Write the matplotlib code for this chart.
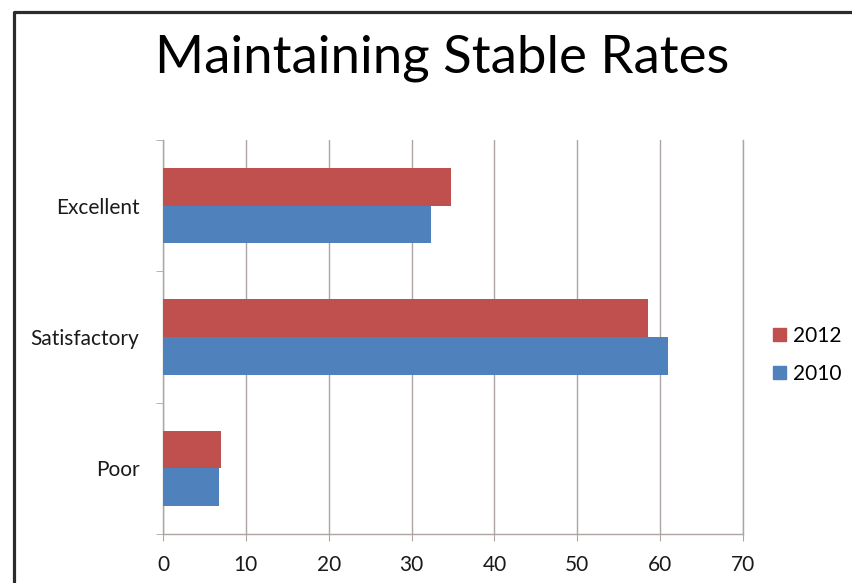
import matplotlib.pyplot as plt
from matplotlib.lines import Line2D
from matplotlib.patches import Patch
import numpy as np

categories = ['Poor', 'Satisfactory', 'Excellent']
rates_2012 = [7.0, 58.5, 34.7]
rates_2010 = [6.8, 60.9, 32.4]
xticks = [0, 10, 20, 30, 40, 50, 60, 70]

red = '#C0504D'
blue = '#4F81BD'
grid_col = '#ADA5A1'

plt.rcParams['font.family'] = ['Lato', 'DejaVu Sans']

fig = plt.figure(figsize=(8.53, 5.83), dpi=100)
ax = fig.add_axes([163 / 853, 49 / 583, 580 / 853, 394 / 583])

ind = np.arange(len(categories))
h = 0.288
ax.barh(ind + h / 2, rates_2012, h, color=red, label='2012', zorder=3)
ax.barh(ind - h / 2, rates_2010, h, color=blue, label='2010', zorder=3)

ax.set_xlim(0, 70)
ax.set_ylim(-0.5, 2.5)
ax.set_xticks(xticks)
ax.set_xticklabels([str(v) for v in xticks], fontsize=15, color='#1a1a1a')
ax.set_yticks(ind)
ax.set_yticklabels(categories, fontsize=15, color='#1a1a1a')
ax.set_yticks(np.arange(-0.5, 3, 1), minor=True)
ax.tick_params(axis='y', which='major', length=0, pad=17)
ax.tick_params(axis='y', which='minor', length=5, color=grid_col, direction='out')
ax.tick_params(axis='x', length=5, color=grid_col, pad=10)

ax.set_axisbelow(True)
ax.grid(axis='x', color=grid_col, linewidth=1.0)
ax.spines['top'].set_visible(False)
for s in ['left', 'bottom', 'right']:
    ax.spines[s].set_color(grid_col)
    ax.spines[s].set_linewidth(1.0)

fig.text(442 / 853, 1 - 73 / 583, 'Maintaining Stable Rates', fontsize=38,
         ha='center', va='baseline', color='black')

handles = [Patch(color=red), Patch(color=blue)]
ax.legend(handles, ['2012', '2010'], loc='center left',
          bbox_to_anchor=(1.02, 0.455), frameon=False, fontsize=15,
          handlelength=0.6, handleheight=0.6, handletextpad=0.35,
          labelspacing=0.85)

# slide frame
x0 = 14.5 / 853
y0 = 1 - 11.5 / 583
fig.add_artist(Line2D([x0, x0, 1], [0, y0, y0], color='#2b2b2b',
                      linewidth=2.3, transform=fig.transFigure))

fig.savefig('out.png', dpi=100)
